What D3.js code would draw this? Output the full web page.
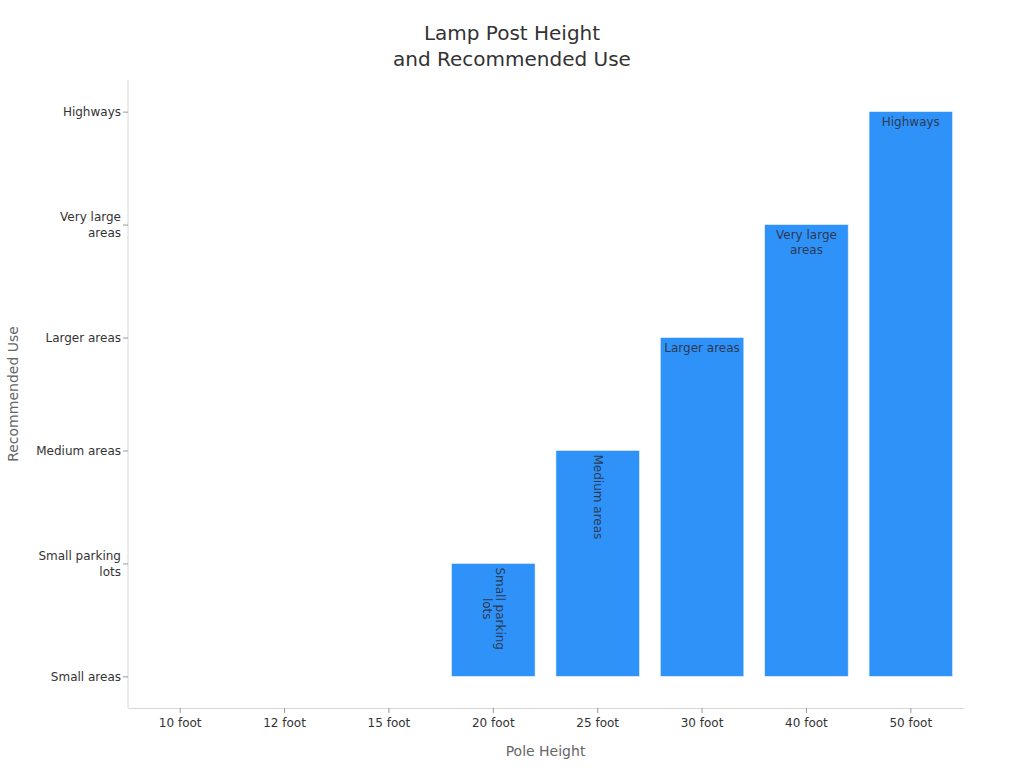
<!DOCTYPE html>
<html>
<head>
<meta charset="utf-8">
<script src="https://cdn.jsdelivr.net/npm/d3@7"></script>
<style>
  body { margin: 0; background: #fff; }
  text { font-family: "DejaVu Sans", sans-serif; }
</style>
</head>
<body>
<script>
var width = 1024,
    height = 768;

// data
var poleHeights = ["10 foot", "12 foot", "15 foot", "20 foot", "25 foot", "30 foot", "40 foot", "50 foot"];
var useLevels = ["Small areas", "Small parking lots", "Medium areas", "Larger areas", "Very large areas", "Highways"];
var recommendedUse = ["Small areas", "Small areas", "Small areas", "Small parking lots",
                      "Medium areas", "Larger areas", "Very large areas", "Highways"];
var rotatedLabels = ["Small parking lots", "Medium areas"];

var margin = {top: 80, right: 61, bottom: 60, left: 128};

var svg = d3.select("body").append("svg")
    .attr("width", width)
    .attr("height", height);

var x = d3.scaleBand()
    .domain(poleHeights)
    .range([margin.left, width - margin.right])
    .paddingInner(0.2)
    .paddingOuter(0.1);

var y = d3.scalePoint()
    .domain(useLevels)
    .range([height - margin.bottom, margin.top])
    .padding(0.28);

// wrap long labels
function wrapLabel(s) {
  if (s == "Small parking lots") return ["Small parking", "lots"];
  if (s == "Very large areas") return ["Very large", "areas"];
  return [s];
}

// title
svg.append("text")
    .attr("x", width / 2)
    .attr("y", 40)
    .attr("text-anchor", "middle")
    .attr("fill", "#333")
    .style("font-size", "20px")
    .selectAll("tspan")
    .data(["Lamp Post Height", "and Recommended Use"])
    .join("tspan")
    .attr("x", width / 2)
    .attr("dy", function(d, i) { return i ? 26 : 0; })
    .text(function(d) { return d; });

// bars
svg.append("g").selectAll("rect")
    .data(poleHeights)
    .join("rect")
    .attr("x", function(d) { return x(d); })
    .attr("width", x.bandwidth())
    .attr("y", function(d, i) { return y(recommendedUse[i]); })
    .attr("height", function(d, i) { return y(useLevels[0]) - y(recommendedUse[i]); })
    .attr("fill", "#2f92f9")
    .attr("stroke", "#e8f2ff")
    .attr("stroke-width", 0.6);

// bar labels
var labels = svg.append("g")
    .style("font-size", "12px")
    .attr("fill", "#2d3a52");

poleHeights.forEach(function(d, i) {
  var use = recommendedUse[i];
  if (use == useLevels[0]) return;
  var lines = wrapLabel(use);
  var cx = x(d) + x.bandwidth() / 2,
      top = y(use);
  if (rotatedLabels.indexOf(use) >= 0) {
    var t = labels.append("text")
        .attr("transform", "translate(" + cx + "," + (top + 4) + ") rotate(90)")
        .attr("text-anchor", "middle");
    var off = (lines.length - 1) * 13 / 2;
    var spans = lines.map(function(l, j) {
      return t.append("tspan")
          .attr("y", -off + j * 13 + 4)
          .text(l);
    });
    var maxLen = d3.max(spans, function(s) { return s.node().getComputedTextLength(); });
    spans.forEach(function(s) { s.attr("x", maxLen / 2); });
  } else {
    var t2 = labels.append("text").attr("text-anchor", "middle");
    lines.forEach(function(l, j) {
      t2.append("tspan")
          .attr("x", cx)
          .attr("y", top + 14 + j * 15)
          .text(l);
    });
  }
});

// x axis
var xAxis = svg.append("g")
    .attr("transform", "translate(0," + (height - margin.bottom) + ")")
    .call(d3.axisBottom(x).tickSize(5).tickSizeOuter(0).tickPadding(5));
xAxis.select(".domain").attr("stroke", "#d6d6d6");
xAxis.selectAll(".tick line").attr("stroke", "#999");
xAxis.selectAll(".tick text").attr("fill", "#333").style("font-size", "12px")
    .style("font-family", "DejaVu Sans, sans-serif");

// y axis
var yAxis = svg.append("g")
    .attr("transform", "translate(" + margin.left + ",0)")
    .call(d3.axisLeft(y).tickSize(5).tickSizeOuter(0).tickPadding(3));
yAxis.select(".domain").attr("stroke", "#d6d6d6")
    .attr("d", "M0," + margin.top + "V" + (height - margin.bottom));
yAxis.selectAll(".tick line").attr("stroke", "#999");
yAxis.selectAll(".tick text")
    .attr("fill", "#333")
    .style("font-size", "12px")
    .style("font-family", "DejaVu Sans, sans-serif")
    .each(function(d) {
      var lines = wrapLabel(d);
      var el = d3.select(this).text(null).attr("dy", null);
      lines.forEach(function(l, j) {
        el.append("tspan")
            .attr("x", -7)
            .attr("dy", j == 0 ? (0.32 - (lines.length - 1) * 0.65) + "em" : "1.3em")
            .text(l);
      });
    });

// axis titles
svg.append("text")
    .attr("x", (margin.left + width - margin.right) / 2)
    .attr("y", 756)
    .attr("text-anchor", "middle")
    .attr("fill", "#666")
    .style("font-size", "14px")
    .text("Pole Height");

svg.append("text")
    .attr("transform", "translate(18," + (margin.top + height - margin.bottom) / 2 + ") rotate(-90)")
    .attr("text-anchor", "middle")
    .attr("fill", "#666")
    .style("font-size", "14px")
    .text("Recommended Use");
</script>
</body>
</html>
